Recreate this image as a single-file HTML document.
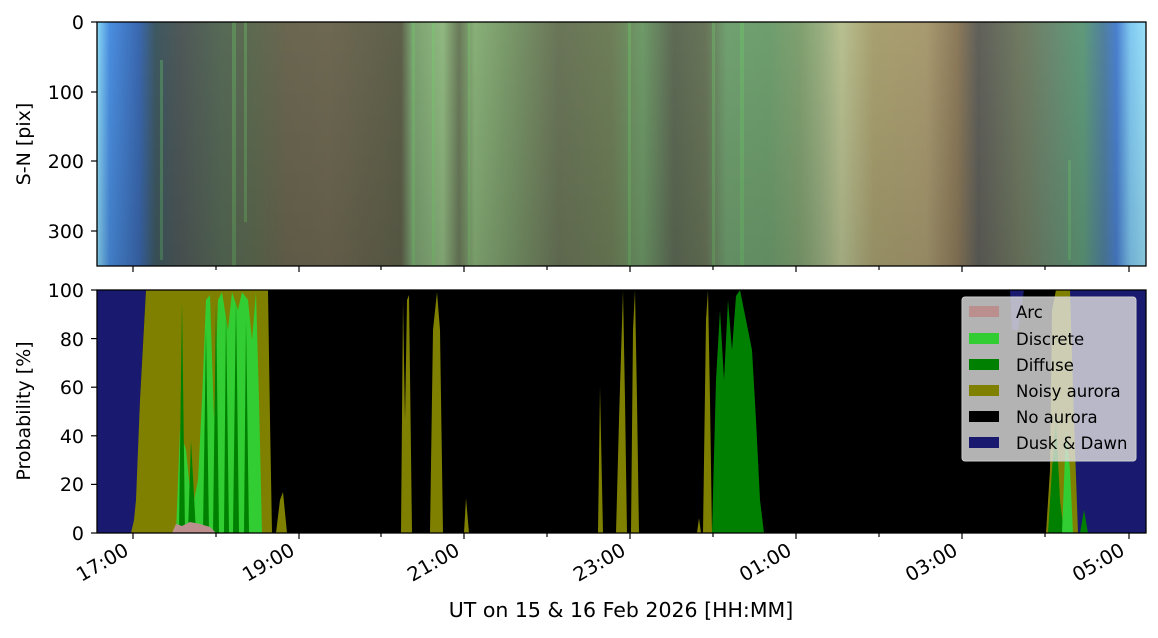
<!DOCTYPE html>
<html><head><meta charset="utf-8"><style>
html,body{margin:0;padding:0;background:#fff;}
svg{display:block;font-family:"DejaVu Sans","Liberation Sans",sans-serif;}
</style></head><body>
<svg width="1158" height="638" viewBox="0 0 1158 638" xmlns="http://www.w3.org/2000/svg">
<defs>
<linearGradient id="bg" x1="0" x2="1" y1="0" y2="0">
<stop offset="0" stop-color="#8ad8f5"/>
<stop offset="0.012" stop-color="#4a8ee0"/>
<stop offset="0.04" stop-color="#3a68b0"/>
<stop offset="0.056" stop-color="#3e5860"/>
<stop offset="0.08" stop-color="#4f5858"/>
<stop offset="0.12" stop-color="#566a56"/>
<stop offset="0.15" stop-color="#5e6a50"/>
<stop offset="0.18" stop-color="#6a6650"/>
<stop offset="0.22" stop-color="#6e6852"/>
<stop offset="0.29" stop-color="#5e604a"/>
<stop offset="0.30" stop-color="#7aa070"/>
<stop offset="0.33" stop-color="#90b880"/>
<stop offset="0.345" stop-color="#6a7a5a"/>
<stop offset="0.36" stop-color="#88b078"/>
<stop offset="0.39" stop-color="#7a9a6a"/>
<stop offset="0.44" stop-color="#6a7558"/>
<stop offset="0.49" stop-color="#6e7e58"/>
<stop offset="0.52" stop-color="#6e9a68"/>
<stop offset="0.55" stop-color="#5e6a55"/>
<stop offset="0.58" stop-color="#687458"/>
<stop offset="0.60" stop-color="#70a070"/>
<stop offset="0.64" stop-color="#6e9e6e"/>
<stop offset="0.67" stop-color="#80a070"/>
<stop offset="0.69" stop-color="#98ae80"/>
<stop offset="0.71" stop-color="#b8c090"/>
<stop offset="0.74" stop-color="#a8a070"/>
<stop offset="0.79" stop-color="#a89a70"/>
<stop offset="0.82" stop-color="#8c7a5a"/>
<stop offset="0.84" stop-color="#60605a"/>
<stop offset="0.88" stop-color="#707a62"/>
<stop offset="0.91" stop-color="#6a8a70"/>
<stop offset="0.94" stop-color="#5f9a7a"/>
<stop offset="0.96" stop-color="#5080a0"/>
<stop offset="0.972" stop-color="#4a80d0"/>
<stop offset="0.985" stop-color="#80c8f0"/>
<stop offset="1" stop-color="#9ae0f8"/>
</linearGradient>
<linearGradient id="vd" x1="0" x2="0" y1="0" y2="1">
<stop offset="0" stop-color="#000" stop-opacity="0"/>
<stop offset="1" stop-color="#000" stop-opacity="0.12"/>
</linearGradient>
</defs>

<rect x="97" y="22" width="1049" height="244" fill="url(#bg)"/>
<g fill="#6fd86a" opacity="0.3">
<rect x="160" y="60" width="3" height="200"/>
<rect x="232" y="22" width="4" height="244"/>
<rect x="244" y="22" width="3" height="200"/>
<rect x="412" y="22" width="3" height="244"/>
<rect x="432" y="22" width="3" height="244"/>
<rect x="468" y="22" width="2" height="244"/>
<rect x="628" y="22" width="3" height="244"/>
<rect x="712" y="22" width="3" height="244"/>
<rect x="740" y="22" width="4" height="244"/>
<rect x="1068" y="160" width="3" height="100"/>
</g>
<rect x="97" y="22" width="1049" height="244" fill="url(#vd)"/>
<rect x="97" y="22" width="1049" height="244" fill="none" stroke="#000" stroke-width="1.3"/>

<g stroke="#000" stroke-width="1.2">
<line x1="91" y1="22" x2="97" y2="22"/><line x1="91" y1="92" x2="97" y2="92"/>
<line x1="91" y1="161" x2="97" y2="161"/><line x1="91" y1="231" x2="97" y2="231"/>
</g>
<g font-size="19" text-anchor="end" fill="#000">
<text x="84" y="29">0</text><text x="84" y="99">100</text><text x="84" y="168">200</text><text x="84" y="238">300</text>
</g>
<text transform="translate(30,144) rotate(-90)" font-size="19" text-anchor="middle">S-N [pix]</text>
<g stroke="#000" stroke-width="1.2">
<line x1="133" y1="266" x2="133" y2="272"/><line x1="299" y1="266" x2="299" y2="272"/>
<line x1="464" y1="266" x2="464" y2="272"/><line x1="630" y1="266" x2="630" y2="272"/>
<line x1="796" y1="266" x2="796" y2="272"/><line x1="962" y1="266" x2="962" y2="272"/>
<line x1="1129" y1="266" x2="1129" y2="272"/>
<line x1="216" y1="266" x2="216" y2="270"/><line x1="381" y1="266" x2="381" y2="270"/>
<line x1="547" y1="266" x2="547" y2="270"/><line x1="713" y1="266" x2="713" y2="270"/>
<line x1="879" y1="266" x2="879" y2="270"/><line x1="1045" y1="266" x2="1045" y2="270"/>
</g>

<rect x="97" y="290" width="1049" height="243" fill="#000"/>
<polygon fill="#191970" points="97,290 146,290 140,400 136,533 97,533"/>
<polygon fill="#191970" points="1010,290 1024,290 1018,330 1012,330"/>
<polygon fill="#191970" points="1066,290 1146,290 1146,533 1076,533 1072,420"/>
<polygon fill="#808000" points="131,533 134,520 136,500 140,400 146,290 268,290 270,420 272,533"/>
<polygon fill="#808000" points="276,533 280,500 283,492 287,533"/>
<polygon fill="#808000" points="401,533 403,300 405,420 407,300 409,295 412,533"/>
<polygon fill="#808000" points="430,533 433,330 437,292 440,330 443,533"/>
<polygon fill="#808000" points="464,533 466,498 469,533"/>
<polygon fill="#32cd32" points="176,533 180,430 186,450 192,510 198,480 202,400 206,300 210,295 214,420 218,300 222,292 228,330 232,292 238,310 242,292 248,300 252,340 256,292 259,400 262,533"/>
<g fill="#008000">
<polygon points="179,533 182,300 185,533"/>
<polygon points="188,533 191,440 196,533"/>
<polygon points="203,533 206,330 209,533"/>
<polygon points="213,533 216,300 219,533"/>
<polygon points="224,533 226,310 229,533"/>
<polygon points="233,533 236,300 239,533"/>
<polygon points="244,533 246,320 249,533"/>
</g>
<polygon fill="#bc8f8f" points="172,533 176,524 182,526 190,522 200,524 210,527 216,533"/>
<polygon fill="#808000" points="598,533 600,387 603,533"/>
<polygon fill="#808000" points="616,533 619,420 623,290 625,400 627,533"/>
<polygon fill="#808000" points="631,533 633,330 635,290 637,400 639,533"/>
<polygon fill="#808000" points="697,533 699,518 701,533"/>
<polygon fill="#808000" points="703,533 706,320 708,290 710,400 712,533"/>
<polygon fill="#008000" points="712,533 716,380 720,310 724,380 728,300 732,350 736,296 740,290 744,310 748,330 752,350 756,420 760,500 764,533"/>
<polygon fill="#808000" points="1046,533 1050,470 1052,310 1056,290 1070,290 1074,420 1078,533"/>
<polygon fill="#008000" points="1048,533 1052,470 1056,420 1060,500 1064,533"/>
<polygon fill="#32cd32" points="1062,533 1066,430 1070,470 1073,533"/>
<polygon fill="#008000" points="1080,533 1084,510 1088,533"/>
<rect x="97" y="290" width="1049" height="243" fill="none" stroke="#000" stroke-width="1.3"/>

<rect x="962" y="297" width="174" height="164" rx="3" fill="#e0e0e0" fill-opacity="0.8" stroke="#ccc"/>
<g>
<rect x="969" y="306" width="30" height="11" fill="#bc8f8f"/>
<rect x="969" y="333" width="30" height="11" fill="#32cd32"/>
<rect x="969" y="359" width="30" height="11" fill="#008000"/>
<rect x="969" y="385" width="30" height="11" fill="#808000"/>
<rect x="969" y="411" width="30" height="11" fill="#000"/>
<rect x="969" y="437" width="30" height="11" fill="#191970"/>
</g>
<g font-size="16.5" fill="#000">
<text x="1016" y="318">Arc</text>
<text x="1016" y="345">Discrete</text>
<text x="1016" y="371">Diffuse</text>
<text x="1016" y="397">Noisy aurora</text>
<text x="1016" y="423">No aurora</text>
<text x="1016" y="449">Dusk &amp; Dawn</text>
</g>

<g stroke="#000" stroke-width="1.2">
<line x1="91" y1="290" x2="97" y2="290"/><line x1="91" y1="338.6" x2="97" y2="338.6"/>
<line x1="91" y1="387.2" x2="97" y2="387.2"/><line x1="91" y1="435.8" x2="97" y2="435.8"/>
<line x1="91" y1="484.4" x2="97" y2="484.4"/><line x1="91" y1="533" x2="97" y2="533"/>
</g>
<g font-size="19" text-anchor="end">
<text x="84" y="297">100</text><text x="84" y="346">80</text><text x="84" y="394">60</text>
<text x="84" y="443">40</text><text x="84" y="491">20</text><text x="84" y="540">0</text>
</g>
<text transform="translate(30,411) rotate(-90)" font-size="19" text-anchor="middle">Probability [%]</text>

<g stroke="#000" stroke-width="1.2">
<line x1="133" y1="533" x2="133" y2="539"/><line x1="299" y1="533" x2="299" y2="539"/>
<line x1="464" y1="533" x2="464" y2="539"/><line x1="630" y1="533" x2="630" y2="539"/>
<line x1="796" y1="533" x2="796" y2="539"/><line x1="962" y1="533" x2="962" y2="539"/>
<line x1="1129" y1="533" x2="1129" y2="539"/>
<line x1="216" y1="533" x2="216" y2="537"/><line x1="381" y1="533" x2="381" y2="537"/>
<line x1="547" y1="533" x2="547" y2="537"/><line x1="713" y1="533" x2="713" y2="537"/>
<line x1="879" y1="533" x2="879" y2="537"/><line x1="1045" y1="533" x2="1045" y2="537"/>
</g>
<g font-size="19.5" text-anchor="end">
<text transform="translate(130,554) rotate(-30)">17:00</text>
<text transform="translate(296,554) rotate(-30)">19:00</text>
<text transform="translate(461,554) rotate(-30)">21:00</text>
<text transform="translate(627,554) rotate(-30)">23:00</text>
<text transform="translate(793,554) rotate(-30)">01:00</text>
<text transform="translate(959,554) rotate(-30)">03:00</text>
<text transform="translate(1126,554) rotate(-30)">05:00</text>
</g>
<text x="621" y="617" font-size="20.5" text-anchor="middle">UT on 15 &amp; 16 Feb 2026 [HH:MM]</text>
</svg>
</body></html>
